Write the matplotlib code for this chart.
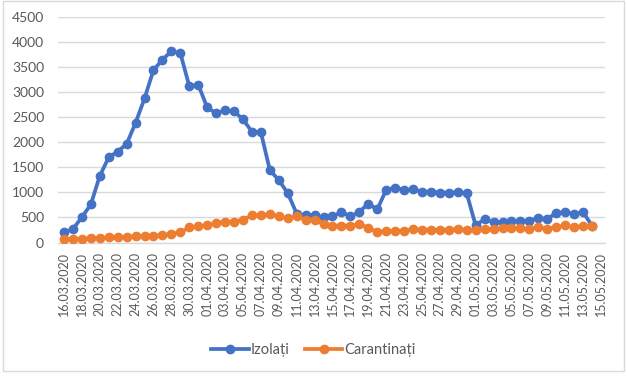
import matplotlib
matplotlib.use("Agg")
import matplotlib.pyplot as plt
from matplotlib.lines import Line2D
from matplotlib.patches import Rectangle
import pandas as pd

dates = pd.date_range("2020-03-16", "2020-05-15", freq="D")
categories = [d.strftime("%d.%m.%Y") for d in dates]

izolati = [200, 270, 505, 760, 1330, 1700, 1815, 1965, 2390, 2875,
           3440, 3650, 3815, 3780, 3120, 3150, 2695, 2580, 2635, 2615,
           2460, 2210, 2200, 1445, 1245, 985, 575, 540, 540, 505,
           520, 610, 520, 610, 775, 660, 1050, 1095, 1050, 1060,
           1015, 1015, 995, 995, 1000, 980, 340, 470, 400, 405,
           435, 420, 435, 490, 470, 590, 605, 570, 605, 335]

carantinati = [60, 70, 75, 85, 90, 100, 105, 115, 120, 130,
               135, 150, 165, 205, 300, 320, 340, 390, 415, 415,
               455, 540, 545, 560, 520, 480, 520, 455, 440, 370,
               335, 335, 335, 370, 290, 210, 220, 235, 235, 265,
               255, 255, 255, 255, 265, 255, 240, 265, 275, 285,
               285, 285, 270, 305, 275, 305, 340, 300, 335, 320]

yticks = [0, 500, 1000, 1500, 2000, 2500, 3000, 3500, 4000, 4500]

BLUE = "#4472C4"
ORANGE = "#ED7D31"
TXT = "#595959"
GRID = "#D9D9D9"

plt.rcParams['font.family'] = ['Lato', 'DejaVu Sans']

fig = plt.figure(figsize=(6.27, 3.76), dpi=100)
fig.patches.append(Rectangle((0.005, 0.012), 0.99, 0.985, transform=fig.transFigure,
                             fill=False, edgecolor=GRID, linewidth=1.0))

W, H = 627.0, 376.0
left, right = 58 / W, 605 / W
bottom, top = 1 - 242.5 / H, 1 - 17 / H
ax = fig.add_axes([left, bottom, right - left, top - bottom])

x1 = list(range(len(izolati)))
x2 = list(range(len(carantinati)))
ax.plot(x1, izolati, color=BLUE, lw=2.7, marker="o", ms=6.0, zorder=3, solid_capstyle="round")
ax.plot(x2, carantinati, color=ORANGE, lw=2.7, marker="o", ms=6.0, zorder=3, solid_capstyle="round")

ax.set_xlim(-0.67, 60.45)
ax.set_ylim(0, 4500)
ax.set_yticks(yticks)
ax.set_yticklabels([str(v) for v in yticks], fontsize=10, color=TXT)
ax.yaxis.grid(True, color=GRID, lw=1.0)
ax.set_axisbelow(True)
for s in ["top", "right", "left"]:
    ax.spines[s].set_visible(False)
ax.spines["bottom"].set_color(GRID)
ax.spines["bottom"].set_linewidth(1.0)
ax.tick_params(axis="y", length=0, pad=10)

xt = list(range(0, len(categories), 2))
ax.set_xticks(xt)
ax.set_xticklabels([categories[i] for i in xt], rotation=90, fontsize=9, color=TXT)
ax.tick_params(axis="x", length=0, pad=7)

handles = [Line2D([], [], color=BLUE, lw=2.7, marker="o", ms=6.0),
           Line2D([], [], color=ORANGE, lw=2.7, marker="o", ms=6.0)]
fig.legend(handles, ["Izolați", "Carantinați"], loc="center", bbox_to_anchor=(0.5, 1 - 350 / H),
           ncol=2, frameon=False, fontsize=10.5, labelcolor=TXT, handlelength=2.6,
           handletextpad=0.15, columnspacing=1.0)

fig.savefig("out.png", dpi=100)
